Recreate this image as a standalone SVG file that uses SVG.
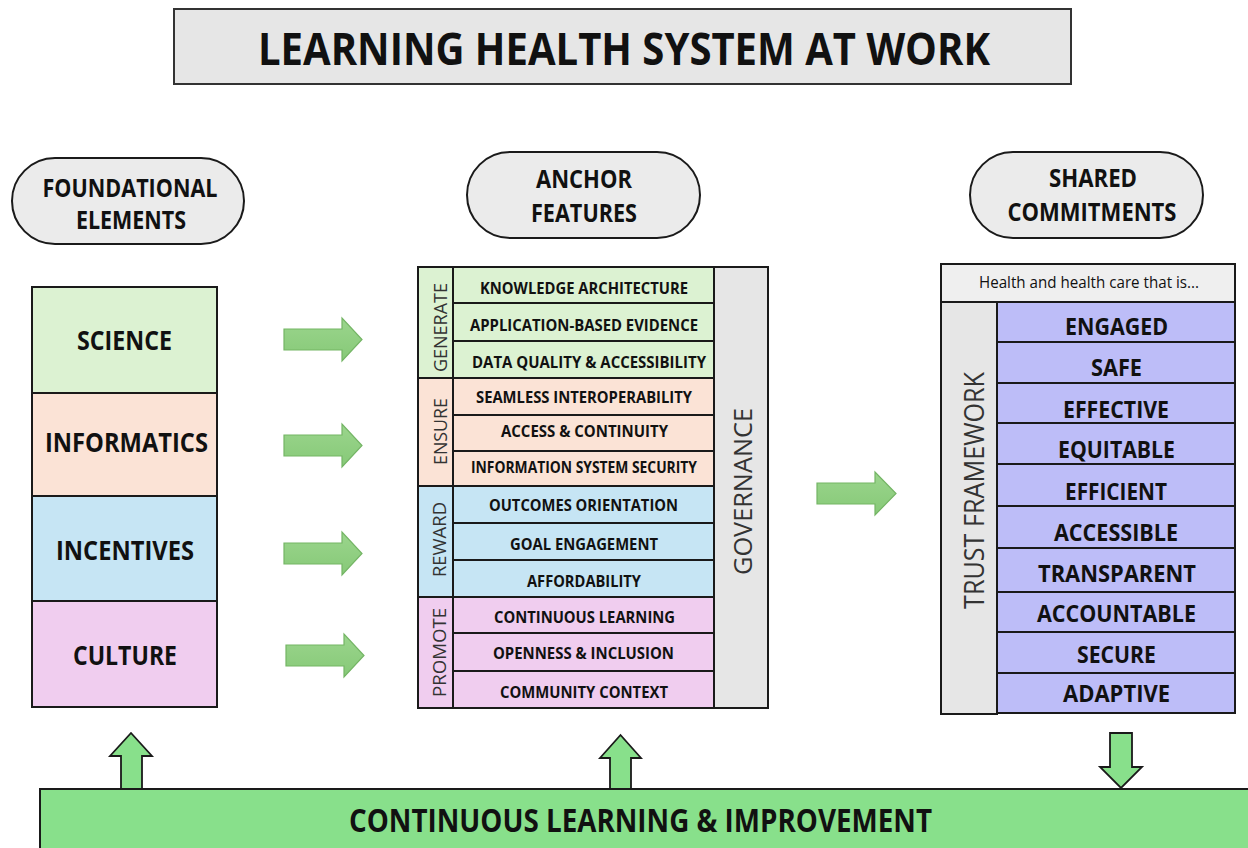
<svg xmlns="http://www.w3.org/2000/svg" width="1248" height="848" viewBox="0 0 1248 848">
  <defs>
    <linearGradient id="flowGrad" x1="0" y1="0" x2="0" y2="1">
      <stop offset="0" stop-color="#9bd58d"/>
      <stop offset="1" stop-color="#86c977"/>
    </linearGradient>
    <style>
      .t { font-family: "Open Sans", "Liberation Sans", sans-serif; fill: #111; }
      .b { font-weight: bold; }
      .box { stroke: #1a1a1a; stroke-width: 2; }
      .pill { fill: #ebebeb; stroke: #1a1a1a; stroke-width: 2; }
      .flow { fill: url(#flowGrad); stroke: #74b565; stroke-width: 1.2; }
      .lift { fill: #88e08b; stroke: #1a1a1a; stroke-width: 1.8; }
      .green { fill: #dcf2d2; }
      .peach { fill: #fbe3d6; }
      .blue { fill: #c6e5f4; }
      .pink { fill: #f0cdef; }
      .grey { fill: #e6e6e6; }
      .violet { fill: #bdbdf8; }
      .item { font-size: 16px; font-weight: bold; }
      .cat { font-size: 19px; fill: #333; }
      .big { font-size: 27px; font-weight: bold; }
      .val { font-size: 23.5px; font-weight: bold; }
      .hd { font-size: 25px; font-weight: bold; }
    </style>
  </defs>

  <!-- Title -->
  <g id="title">
    <rect x="174" y="9" width="897" height="75" fill="#e6e6e6" stroke="#333" stroke-width="2"/>
    <text class="t b" x="624" y="65" font-size="44" text-anchor="middle" textLength="732" lengthAdjust="spacingAndGlyphs">LEARNING HEALTH SYSTEM AT WORK</text>
  </g>

  <!-- Column headers -->
  <g id="hdr-foundational">
    <rect class="pill" x="12" y="158" width="232" height="86" rx="43"/>
    <text class="t hd" x="130" y="197" text-anchor="middle" textLength="175" lengthAdjust="spacingAndGlyphs">FOUNDATIONAL</text>
    <text class="t hd" x="131" y="229" text-anchor="middle" textLength="110" lengthAdjust="spacingAndGlyphs">ELEMENTS</text>
  </g>
  <g id="hdr-anchor">
    <rect class="pill" x="467" y="152" width="233" height="86" rx="43"/>
    <text class="t hd" x="584" y="188" text-anchor="middle" textLength="96" lengthAdjust="spacingAndGlyphs">ANCHOR</text>
    <text class="t hd" x="584" y="222" text-anchor="middle" textLength="106" lengthAdjust="spacingAndGlyphs">FEATURES</text>
  </g>
  <g id="hdr-shared">
    <rect class="pill" x="970" y="152" width="233" height="86" rx="43"/>
    <text class="t hd" x="1093" y="187" text-anchor="middle" textLength="88" lengthAdjust="spacingAndGlyphs">SHARED</text>
    <text class="t hd" x="1092" y="221" text-anchor="middle" textLength="169" lengthAdjust="spacingAndGlyphs">COMMITMENTS</text>
  </g>

  <!-- Foundational elements -->
  <g id="foundational">
    <rect class="box green" x="32" y="287" width="185" height="106"/>
    <rect class="box peach" x="32" y="393" width="185" height="103"/>
    <rect class="box blue" x="32" y="496" width="185" height="105"/>
    <rect class="box pink" x="32" y="601" width="185" height="106"/>
    <text class="t big" x="124.5" y="350" text-anchor="middle" textLength="95" lengthAdjust="spacingAndGlyphs">SCIENCE</text>
    <text class="t big" x="126.5" y="452" text-anchor="middle" textLength="163" lengthAdjust="spacingAndGlyphs">INFORMATICS</text>
    <text class="t big" x="125" y="560" text-anchor="middle" textLength="138" lengthAdjust="spacingAndGlyphs">INCENTIVES</text>
    <text class="t big" x="125" y="665" text-anchor="middle" textLength="104" lengthAdjust="spacingAndGlyphs">CULTURE</text>
  </g>

  <!-- Anchor features -->
  <g id="anchor">
    <rect class="box grey" x="714" y="267" width="54" height="441"/>
    <rect class="box green" x="418" y="267" width="35" height="111"/>
    <rect class="box peach" x="418" y="378" width="35" height="108"/>
    <rect class="box blue" x="418" y="486" width="35" height="111"/>
    <rect class="box pink" x="418" y="597" width="35" height="111"/>

    <rect class="box green" x="453" y="267" width="261" height="36"/>
    <rect class="box green" x="453" y="303" width="261" height="38"/>
    <rect class="box green" x="453" y="341" width="261" height="37"/>
    <rect class="box peach" x="453" y="378" width="261" height="37"/>
    <rect class="box peach" x="453" y="415" width="261" height="36"/>
    <rect class="box peach" x="453" y="451" width="261" height="35"/>
    <rect class="box blue" x="453" y="486" width="261" height="37"/>
    <rect class="box blue" x="453" y="523" width="261" height="37"/>
    <rect class="box blue" x="453" y="560" width="261" height="37"/>
    <rect class="box pink" x="453" y="597" width="261" height="36"/>
    <rect class="box pink" x="453" y="633" width="261" height="38"/>
    <rect class="box pink" x="453" y="671" width="261" height="37"/>

    <text class="t cat" transform="translate(447 327.5) rotate(-90)" text-anchor="middle" textLength="89" lengthAdjust="spacingAndGlyphs">GENERATE</text>
    <text class="t cat" transform="translate(447 431.5) rotate(-90)" text-anchor="middle" textLength="67" lengthAdjust="spacingAndGlyphs">ENSURE</text>
    <text class="t cat" transform="translate(446 539.5) rotate(-90)" text-anchor="middle" textLength="75" lengthAdjust="spacingAndGlyphs">REWARD</text>
    <text class="t cat" transform="translate(446 652.5) rotate(-90)" text-anchor="middle" textLength="89" lengthAdjust="spacingAndGlyphs">PROMOTE</text>
    <text class="t" font-size="26" style="fill:#333" transform="translate(752 491.5) rotate(-90)" text-anchor="middle" textLength="167" lengthAdjust="spacingAndGlyphs">GOVERNANCE</text>

    <text class="t item" x="584" y="294" text-anchor="middle" textLength="208" lengthAdjust="spacingAndGlyphs">KNOWLEDGE ARCHITECTURE</text>
    <text class="t item" x="584" y="331" text-anchor="middle" textLength="228" lengthAdjust="spacingAndGlyphs">APPLICATION-BASED EVIDENCE</text>
    <text class="t item" x="589" y="368" text-anchor="middle" textLength="234" lengthAdjust="spacingAndGlyphs">DATA QUALITY &amp; ACCESSIBILITY</text>
    <text class="t item" x="584" y="403" text-anchor="middle" textLength="216" lengthAdjust="spacingAndGlyphs">SEAMLESS INTEROPERABILITY</text>
    <text class="t item" x="584.5" y="437" text-anchor="middle" textLength="167" lengthAdjust="spacingAndGlyphs">ACCESS &amp; CONTINUITY</text>
    <text class="t item" x="584" y="473" text-anchor="middle" textLength="226" lengthAdjust="spacingAndGlyphs">INFORMATION SYSTEM SECURITY</text>
    <text class="t item" x="583.5" y="511" text-anchor="middle" textLength="189" lengthAdjust="spacingAndGlyphs">OUTCOMES ORIENTATION</text>
    <text class="t item" x="584" y="550" text-anchor="middle" textLength="148" lengthAdjust="spacingAndGlyphs">GOAL ENGAGEMENT</text>
    <text class="t item" x="584" y="587" text-anchor="middle" textLength="114" lengthAdjust="spacingAndGlyphs">AFFORDABILITY</text>
    <text class="t item" x="584.5" y="623" text-anchor="middle" textLength="181" lengthAdjust="spacingAndGlyphs">CONTINUOUS LEARNING</text>
    <text class="t item" x="583.5" y="659" text-anchor="middle" textLength="181" lengthAdjust="spacingAndGlyphs">OPENNESS &amp; INCLUSION</text>
    <text class="t item" x="584" y="698" text-anchor="middle" textLength="168" lengthAdjust="spacingAndGlyphs">COMMUNITY CONTEXT</text>
  </g>

  <!-- Shared commitments -->
  <g id="shared">
    <rect class="box" fill="#efefef" x="941" y="264" width="294" height="38"/>
    <text class="t" x="1089" y="288" font-size="15.5" text-anchor="middle" textLength="220" lengthAdjust="spacingAndGlyphs">Health and health care that is...</text>
    <rect class="box grey" x="941" y="302" width="56" height="412"/>
    <text class="t" font-size="27" style="fill:#333" transform="translate(983.5 490.5) rotate(-90)" text-anchor="middle" textLength="237" lengthAdjust="spacingAndGlyphs">TRUST FRAMEWORK</text>

    <rect class="box violet" x="997" y="302" width="238" height="40"/>
    <rect class="box violet" x="997" y="342" width="238" height="41"/>
    <rect class="box violet" x="997" y="383" width="238" height="40"/>
    <rect class="box violet" x="997" y="423" width="238" height="41"/>
    <rect class="box violet" x="997" y="464" width="238" height="42"/>
    <rect class="box violet" x="997" y="506" width="238" height="42"/>
    <rect class="box violet" x="997" y="548" width="238" height="44"/>
    <rect class="box violet" x="997" y="592" width="238" height="40"/>
    <rect class="box violet" x="997" y="632" width="238" height="41"/>
    <rect class="box violet" x="997" y="673" width="238" height="40"/>

    <text class="t val" x="1116.5" y="335" text-anchor="middle" textLength="103" lengthAdjust="spacingAndGlyphs">ENGAGED</text>
    <text class="t val" x="1116.5" y="376" text-anchor="middle" textLength="51" lengthAdjust="spacingAndGlyphs">SAFE</text>
    <text class="t val" x="1116" y="418" text-anchor="middle" textLength="106" lengthAdjust="spacingAndGlyphs">EFFECTIVE</text>
    <text class="t val" x="1116.5" y="458" text-anchor="middle" textLength="117" lengthAdjust="spacingAndGlyphs">EQUITABLE</text>
    <text class="t val" x="1116" y="500" text-anchor="middle" textLength="102" lengthAdjust="spacingAndGlyphs">EFFICIENT</text>
    <text class="t val" x="1116" y="541" text-anchor="middle" textLength="124" lengthAdjust="spacingAndGlyphs">ACCESSIBLE</text>
    <text class="t val" x="1117" y="582" text-anchor="middle" textLength="158" lengthAdjust="spacingAndGlyphs">TRANSPARENT</text>
    <text class="t val" x="1116.5" y="622" text-anchor="middle" textLength="159" lengthAdjust="spacingAndGlyphs">ACCOUNTABLE</text>
    <text class="t val" x="1116.5" y="663" text-anchor="middle" textLength="79" lengthAdjust="spacingAndGlyphs">SECURE</text>
    <text class="t val" x="1116.5" y="702" text-anchor="middle" textLength="107" lengthAdjust="spacingAndGlyphs">ADAPTIVE</text>
  </g>

  <!-- Base bar -->
  <g id="improvement">
    <rect x="40" y="789" width="1210" height="62" fill="#88e08b" stroke="#1a1a1a" stroke-width="2"/>
    <text class="t b" x="640.5" y="832" font-size="33" text-anchor="middle" textLength="583" lengthAdjust="spacingAndGlyphs">CONTINUOUS LEARNING &amp; IMPROVEMENT</text>
  </g>

  <!-- Connectors -->
  <g id="connectors">
    <!-- block arrows: foundational elements to anchor features -->
    <path class="flow" d="M284 329 H342 V318 L362 339.5 L342 361 V350 H284 Z"/>
    <path class="flow" d="M284 435 H342 V424 L362 445.5 L342 467 V456 H284 Z"/>
    <path class="flow" d="M284 543 H342 V532 L362 553.5 L342 575 V564 H284 Z"/>
    <path class="flow" d="M286 645 H344 V634 L364 655.5 L344 677 V666 H286 Z"/>
    <!-- anchor features to shared commitments -->
    <path class="flow" d="M817 483 H875 V472 L896 493.5 L875 515 V504 H817 Z"/>
    <!-- feedback arrows from / to the base bar -->
    <path class="lift" d="M121 789 V756 H110 L131 733 L152 756 H142 V789 Z"/>
    <path class="lift" d="M610 789 V758 H600 L620.5 735 L641 758 H631 V789 Z"/>
    <path class="lift" d="M1110 733 H1132 V767 H1142 L1121 788 L1100 767 H1110 Z"/>
  </g>
</svg>
